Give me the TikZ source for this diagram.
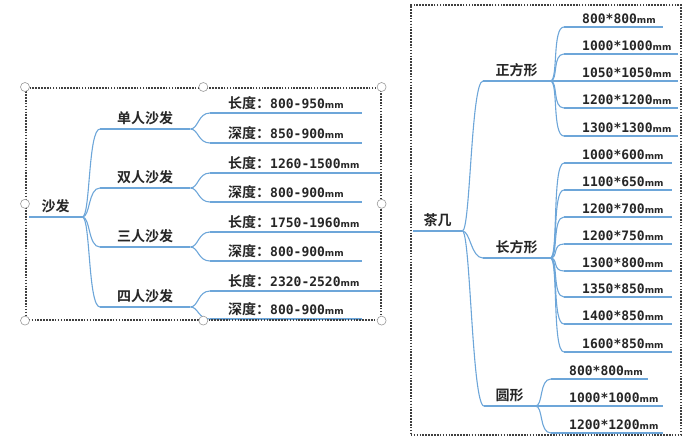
\documentclass[tikz,border=0pt]{standalone}
\usepackage{fontspec}
\usepackage{tikz}
\usetikzlibrary{positioning}
\usepackage{xcolor}
\newfontfamily\cnfont{Noto Sans CJK SC}[UprightFont={* Bold}]
\newfontfamily\numfont{DejaVu Sans Mono}[UprightFont={* Bold}]
\newfontfamily\unitfont{DejaVu Sans}[UprightFont={* Bold}]
\definecolor{mapBlue}{HTML}{6DA6D9}
\definecolor{mapText}{HTML}{262626}
\definecolor{mapFrame}{HTML}{404040}
\definecolor{mapHandle}{HTML}{9A9A9A}
\newcommand{\mmval}[1]{\mbox{{\numfont\fontsize{13}{13}\selectfont #1}{\unitfont\fontsize{9}{9}\selectfont mm}}}

\begin{document}
\begin{tikzpicture}[
        x=1pt, y=-1pt,
        font=\cnfont\fontsize{14}{14}\selectfont,
        % Estilos de los nodos
        topic/.style={anchor=south west, inner xsep=0pt, inner ysep=3.5pt, text=mapText},
        leaf/.style={topic, inner ysep=3pt, align=left, execute at begin node={\hspace*{18pt}}},
        % Estilos de las ramas
        link/.style={draw=mapBlue, line width=1.1pt},
        fork/.style={to path={.. controls +(8,0) and +(-12,0) .. (\tikztotarget)}},
        % Marcos de seleccion
        selframe/.style={draw=mapFrame, dash pattern=on 1.6pt off 1.3pt, line width=1.6pt, anchor=north west, inner sep=0pt},
        handle/.style={draw=mapHandle, fill=white, line width=0.6pt}
    ]
    \useasboundingbox (0,0) rectangle (695,437);

    % -- Sofa: raiz y tipos --
    \node[topic, minimum width=53pt] (sofa) at (29,217) {沙发};
    \node[topic, minimum width=90pt] (single) at (100,129) {单人沙发};
    \node[topic, minimum width=90pt] (double) at (100,188) {双人沙发};
    \node[topic, minimum width=90pt] (triple) at (100,247) {三人沙发};
    \node[topic, minimum width=90pt] (quad) at (100,307) {四人沙发};

    % -- Sofa: medidas --
    \node[leaf, text width=152pt] (singleL) at (210,113) {长度：\mmval{800-950}};
    \node[leaf, text width=152pt] (singleD) at (210,143) {深度：\mmval{850-900}};
    \node[leaf, text width=170pt] (doubleL) at (210,173) {长度：\mmval{1260-1500}};
    \node[leaf, text width=152pt] (doubleD) at (210,202) {深度：\mmval{800-900}};
    \node[leaf, text width=170pt] (tripleL) at (210,232) {长度：\mmval{1750-1960}};
    \node[leaf, text width=152pt] (tripleD) at (210,261) {深度：\mmval{800-900}};
    \node[leaf, text width=170pt] (quadL) at (210,291) {长度：\mmval{2320-2520}};
    \node[leaf, text width=152pt] (quadD) at (210,319) {深度：\mmval{800-900}};

    % -- Mesa de centro: raiz y formas --
    \node[topic, minimum width=49pt] (table) at (413,231) {茶几};
    \node[topic, minimum width=67pt] (square) at (483,81) {正方形};
    \node[topic, minimum width=67pt] (rect) at (483,258) {长方形};
    \node[topic, minimum width=51pt] (round) at (484,406) {圆形};

    % -- Mesa de centro: medidas --
    \node[leaf, text width=99pt] (sqA) at (564,27) {\mmval{800*800}};
    \node[leaf, text width=114pt] (sqB) at (564,54) {\mmval{1000*1000}};
    \node[leaf, text width=114pt] (sqC) at (564,81) {\mmval{1050*1050}};
    \node[leaf, text width=114pt] (sqD) at (564,108) {\mmval{1200*1200}};
    \node[leaf, text width=114pt] (sqE) at (564,136) {\mmval{1300*1300}};
    \node[leaf, text width=108pt] (reA) at (564,163) {\mmval{1000*600}};
    \node[leaf, text width=108pt] (reB) at (564,190) {\mmval{1100*650}};
    \node[leaf, text width=108pt] (reC) at (564,217) {\mmval{1200*700}};
    \node[leaf, text width=108pt] (reD) at (564,244) {\mmval{1200*750}};
    \node[leaf, text width=108pt] (reE) at (564,271) {\mmval{1300*800}};
    \node[leaf, text width=108pt] (reF) at (564,297) {\mmval{1350*850}};
    \node[leaf, text width=108pt] (reG) at (564,324) {\mmval{1400*850}};
    \node[leaf, text width=108pt] (reH) at (564,352) {\mmval{1600*850}};
    \node[leaf, text width=97pt] (roA) at (551,379) {\mmval{800*800}};
    \node[leaf, text width=112pt] (roB) at (551,406) {\mmval{1000*1000}};
    \node[leaf, text width=112pt] (roC) at (551,433) {\mmval{1200*1200}};

    % -- Subrayados de cada tema --
    \foreach \n in {sofa,single,double,triple,quad,singleL,singleD,doubleL,doubleD,tripleL,tripleD,quadL,quadD,
        table,square,rect,round,sqA,sqB,sqC,sqD,sqE,reA,reB,reC,reD,reE,reF,reG,reH,roA,roB,roC}
        \draw[link] (\n.south west) -- (\n.south east);

    % -- Ramas (padre/hijo) --
    \foreach \p/\c in {sofa/single,sofa/double,sofa/triple,sofa/quad,
        single/singleL,single/singleD,double/doubleL,double/doubleD,
        triple/tripleL,triple/tripleD,quad/quadL,quad/quadD,
        table/square,table/rect,table/round,
        square/sqA,square/sqB,square/sqC,square/sqD,square/sqE,
        rect/reA,rect/reB,rect/reC,rect/reD,rect/reE,rect/reF,rect/reG,rect/reH,
        round/roA,round/roB,round/roC}
        \draw[link] (\p.south east) to[fork] (\c.south west);

    % -- Marcos punteados y tiradores --
    \node[selframe, minimum width=355pt, minimum height=232pt] (sofaframe) at (25,87) {};
    \node[selframe, minimum width=270pt, minimum height=430pt] (tableframe) at (410,4) {};
    \foreach \a in {north west,north,north east,west,east,south west,south,south east}
        \draw[handle] (sofaframe.\a) circle (4.5pt);

\end{tikzpicture}
\end{document}
